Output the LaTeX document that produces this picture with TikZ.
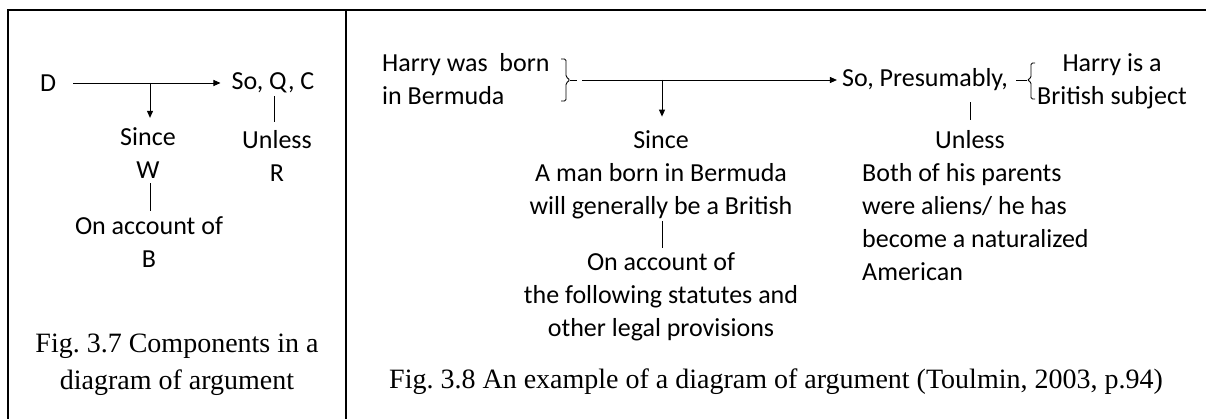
\documentclass[tikz,border=0pt]{standalone}
\usepackage{fontspec}
\setmainfont{Carlito}
\newfontfamily\capfont{Liberation Serif}
\usetikzlibrary{arrows.meta}
\frenchspacing
\begin{document}
\begin{tikzpicture}[x=1pt,y=-1pt,
  txt/.style={inner sep=0pt, font=\fontsize{26}{33}\selectfont},
  captxt/.style={inner sep=0pt, align=center, font=\capfont\fontsize{28}{37}\selectfont},
  conn/.style={line width=0.9pt},
  arr/.style={conn,-{Triangle[length=7pt,width=6pt]}},
  brace/.style={conn, rounded corners=1.5pt},
  frame/.style={line width=2.5pt}]
\useasboundingbox (0,0) rectangle (1206,419);
\fill[white] (0,0) rectangle (1206,419);
% table frame
\draw[frame] (8,419) -- (8,10) -- (1206,10);
\draw[frame] (346,10) -- (346,419);

% ---------- left panel ----------
\node[txt] (D) at (48,83) {D};
\node[txt] (C1) at (273,83) {So, Q, C};
\node[txt, align=center] (W1) at (148,153.5) {Since\\W};
\node[txt, align=center] (R1) at (277,156) {Unless\\R};
\node[txt, align=center] (B1) at (149,242.5) {On account of\\B};
\node[captxt] (cap1) at (177,365) {Fig.\ 3.7 Components in a\\diagram of argument};

\coordinate (j1) at (150,83);
\draw[arr] ([xshift=17pt]D.east) -- ([xshift=-11pt]C1.west);
\draw[arr] (j1) -- ([yshift=10pt]j1 |- W1.north);
\draw[conn] ([xshift=1pt,yshift=-3pt]C1.south) -- ([xshift=1pt,yshift=8pt]C1.south |- R1.north);
\draw[conn] ([xshift=2pt,yshift=-4pt]W1.south) -- ([xshift=2pt,yshift=6pt]W1.south |- B1.north);

% ---------- right panel ----------
\node[txt, align=left, anchor=west] (H) at (382,79) {Harry was\ \ born\\in Bermuda};
\draw[brace] (561,59) -- (566,59) -- (566,77) -- (570,80) -- (566,83) -- (566,101) -- (561,101);
\draw[conn] (570,80) -- (577,80);
\node[txt] (SoP) at (925,80) {So, Presumably,};
\coordinate (l1) at (582,80);
\coordinate (j2) at (662,80);
\draw[arr] (l1) -- ([xshift=-5pt]SoP.west);
\node[txt, align=center] (W2) at (661,175) {Since\\A man born in Bermuda\\will generally be a British};
\node[txt, align=center] (B2) at (661,297) {On account of\\the following statutes and\\other legal provisions};
\draw[arr] (j2) -- ([yshift=14pt]j2 |- W2.north);
\draw[conn] ([xshift=1pt,yshift=-2pt]W2.south) -- ([xshift=1pt,yshift=5pt]W2.south |- B2.north);

\draw[conn] (1016,80) -- (1027,80);
\draw[brace] (1035,63) -- (1031,63) -- (1031,78) -- (1027,80) -- (1031,82) -- (1031,99) -- (1035,99);
\node[txt, align=center] (HB) at (1112,81) {Harry is a\\British subject};

\node[txt] (U2) at (970,140) {Unless};
\draw[conn] ([yshift=-11pt]U2.north |- SoP.south) -- ([yshift=11pt]U2.north);
\node[txt, align=left, anchor=west] (R2) at (862,222) {Both of his parents\\were aliens/ he has\\become a naturalized\\American};

\node[captxt] (cap2) at (776,382) {Fig.\ 3.8 An example of a diagram of argument (Toulmin, 2003, p.94)};
\end{tikzpicture}
\end{document}
